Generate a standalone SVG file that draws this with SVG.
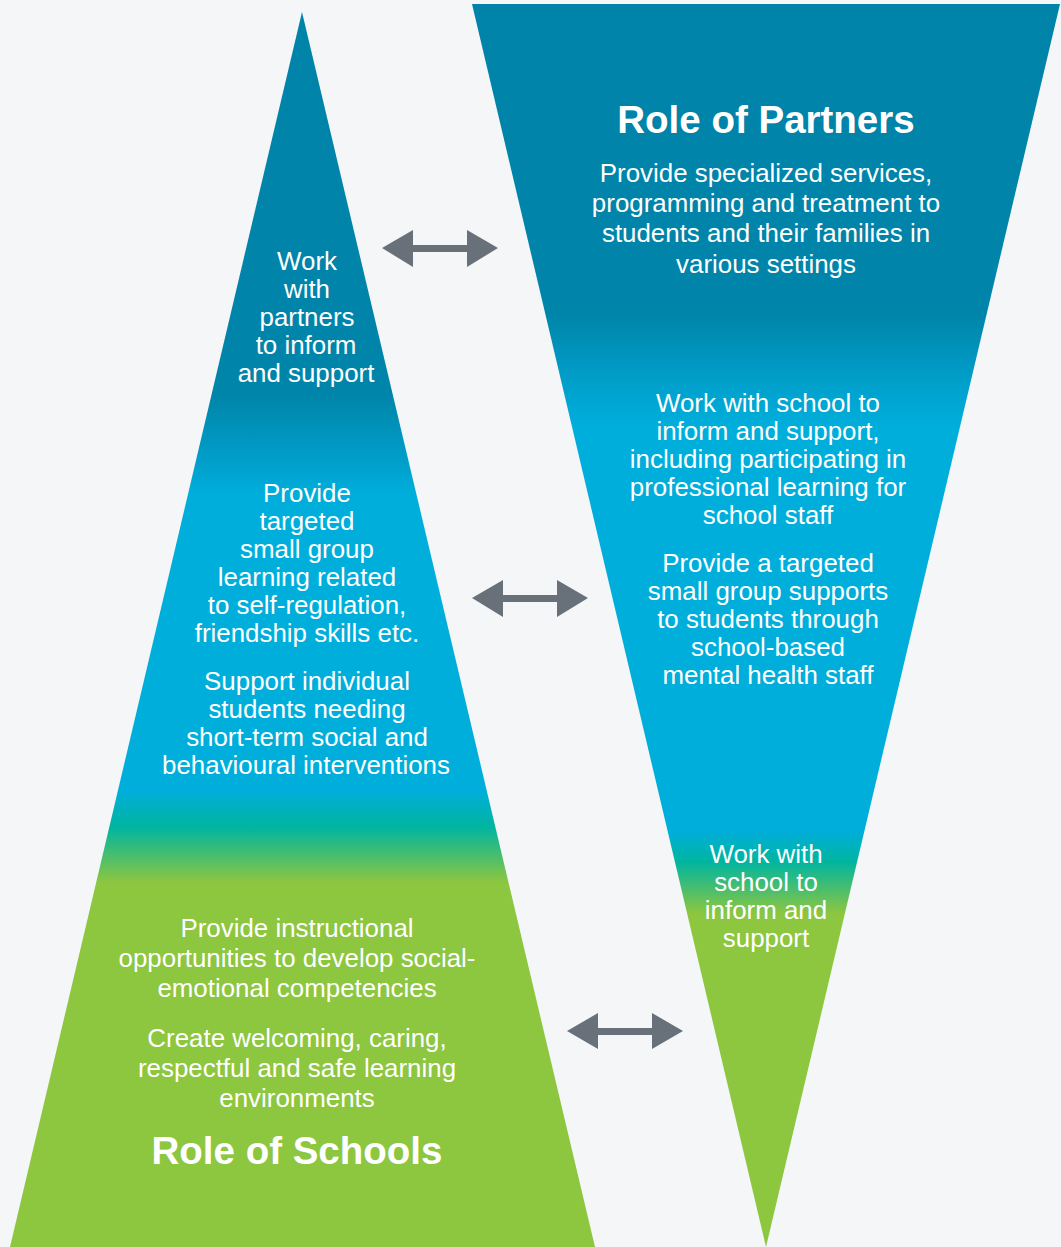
<svg xmlns="http://www.w3.org/2000/svg" width="1061" height="1247" viewBox="0 0 1061 1247">
<defs>
<linearGradient id="gSchools" gradientUnits="userSpaceOnUse" x1="0" y1="12" x2="0" y2="1247">
<stop offset="0" stop-color="#0083A8"/>
<stop offset="0.31" stop-color="#0085AA"/>
<stop offset="0.37" stop-color="#00A2CE"/>
<stop offset="0.39" stop-color="#00AEDB"/>
<stop offset="0.63" stop-color="#00AEDB"/>
<stop offset="0.66" stop-color="#00B5A0"/>
<stop offset="0.705" stop-color="#8DC63F"/>
<stop offset="1" stop-color="#8DC63F"/>
</linearGradient>
<linearGradient id="gPartners" gradientUnits="userSpaceOnUse" x1="0" y1="4" x2="0" y2="1247">
<stop offset="0" stop-color="#0083A8"/>
<stop offset="0.25" stop-color="#0085AA"/>
<stop offset="0.31" stop-color="#00A2CE"/>
<stop offset="0.34" stop-color="#00AEDB"/>
<stop offset="0.665" stop-color="#00AEDB"/>
<stop offset="0.69" stop-color="#00B5A0"/>
<stop offset="0.732" stop-color="#8DC63F"/>
<stop offset="1" stop-color="#8DC63F"/>
</linearGradient>
<style>
.t{font-family:"Liberation Sans",Arial,sans-serif;font-size:25.9px;fill:#ffffff;text-anchor:middle;}
.h{font-family:"Liberation Sans",Arial,sans-serif;font-size:38.5px;font-weight:bold;fill:#ffffff;text-anchor:middle;}
.ar{fill:#68717A;}
</style>
</defs>
<rect width="1061" height="1247" fill="#F4F6F8"/>
<g id="schools">
<polygon points="302,12 10,1247 595,1247" fill="url(#gSchools)"/>
<text class="t"><tspan x="307" y="270">Work</tspan><tspan x="307" y="298">with</tspan><tspan x="307" y="326">partners</tspan><tspan x="306" y="354">to inform</tspan><tspan x="306" y="382">and support</tspan></text>
<text class="t"><tspan x="307" y="502">Provide</tspan><tspan x="307" y="530">targeted</tspan><tspan x="307" y="558">small group</tspan><tspan x="307" y="586">learning related</tspan><tspan x="307" y="614">to self-regulation,</tspan><tspan x="307" y="642">friendship skills etc.</tspan></text>
<text class="t"><tspan x="307" y="690">Support individual</tspan><tspan x="307" y="718">students needing</tspan><tspan x="307" y="746">short-term social and</tspan><tspan x="306" y="774">behavioural interventions</tspan></text>
<text class="t"><tspan x="297" y="937">Provide instructional</tspan><tspan x="297" y="967">opportunities to develop social-</tspan><tspan x="297" y="997">emotional competencies</tspan></text>
<text class="t"><tspan x="297" y="1047">Create welcoming, caring,</tspan><tspan x="297" y="1077">respectful and safe learning</tspan><tspan x="297" y="1107">environments</tspan></text>
<text class="h" x="297" y="1164">Role of Schools</text>
</g>
<g id="partners">
<polygon points="472,4 1060,4 766,1247" fill="url(#gPartners)"/>
<text class="h" x="766" y="133">Role of Partners</text>
<text class="t"><tspan x="766" y="182">Provide specialized services,</tspan><tspan x="766" y="212">programming and treatment to</tspan><tspan x="766" y="242">students and their families in</tspan><tspan x="766" y="273">various settings</tspan></text>
<text class="t"><tspan x="768" y="412">Work with school to</tspan><tspan x="768" y="440">inform and support,</tspan><tspan x="768" y="468">including participating in</tspan><tspan x="768" y="496">professional learning for</tspan><tspan x="768" y="524">school staff</tspan></text>
<text class="t"><tspan x="768" y="572">Provide a targeted</tspan><tspan x="768" y="600">small group supports</tspan><tspan x="768" y="628">to students through</tspan><tspan x="768" y="656">school-based</tspan><tspan x="768" y="684">mental health staff</tspan></text>
<text class="t"><tspan x="766" y="863">Work with</tspan><tspan x="766" y="891">school to</tspan><tspan x="766" y="919">inform and</tspan><tspan x="766" y="947">support</tspan></text>
</g>
<g id="connectors">
<g class="ar">
<polygon points="382,248 413,230 413,245 467,245 467,230 498,248 467,267 467,252 413,252 413,267"/>
<polygon points="472,598 503,580 503,595 557,595 557,580 588,598 557,617 557,602 503,602 503,617"/>
<polygon points="567,1031 598,1013 598,1028 652,1028 652,1013 683,1031 652,1049 652,1035 598,1035 598,1049"/>
</g>
</g>
</svg>
